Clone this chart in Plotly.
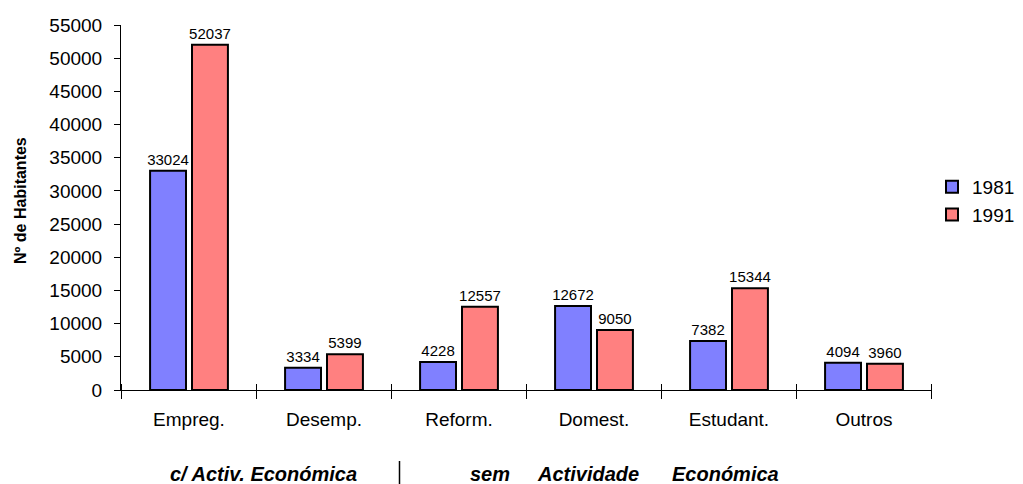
import plotly.graph_objects as go

categories = ["Empreg.", "Desemp.", "Reform.", "Domest.", "Estudant.", "Outros"]
values_1981 = [33024, 3334, 4228, 12672, 7382, 4094]
values_1991 = [52037, 5399, 12557, 9050, 15344, 3960]
series_names = ["1981", "1991"]
y_ticks = list(range(0, 55001, 5000))

FONT = "Liberation Sans, Arial, sans-serif"
OFF = 8  # page body margin
W, H = 1023 - OFF, 484 - OFF
L, R, T, B = 121 - OFF, 91, 25 - OFF, 94
pw, ph = W - L - R, H - T - B
PLOT_LEFT_PAGE, PLOT_BOTTOM_PAGE = 121, 390

def px_x(p):  # page pixel -> paper
    return (p - PLOT_LEFT_PAGE) / pw

def px_y(p):
    return (PLOT_BOTTOM_PAGE - p) / ph

fig = go.Figure()
for name, vals, col in [(series_names[0], values_1981, "#8080FF"),
                        (series_names[1], values_1991, "#FF8080")]:
    fig.add_trace(go.Bar(
        x=categories, y=vals, name=name,
        marker=dict(color=col, line=dict(color="black", width=2)),
        text=[str(v) for v in vals], textposition="outside",
        textfont=dict(family=FONT, size=15, color="black"),
        constraintext="none", cliponaxis=False,
    ))

shapes = []
for i in range(len(categories) + 1):
    shapes.append(dict(type="line", xref="x", yref="paper",
                       x0=i - 0.5, x1=i - 0.5, y0=0, y1=6 / ph,
                       line=dict(color="black", width=1)))
shapes.append(dict(type="line", xref="paper", yref="paper",
                   x0=px_x(399.5), x1=px_x(399.5), y0=px_y(461), y1=px_y(486),
                   line=dict(color="black", width=1.5)))

bot_font = dict(family=FONT, size=20, color="black")
annotations = [
    dict(text="<b>Nº de Habitantes</b>", xref="paper", yref="paper",
         x=px_x(20), y=px_y(201), xanchor="center", yanchor="middle",
         textangle=-90, showarrow=False,
         font=dict(family=FONT, size=16, color="black")),
]
for txt, cx in [("c/ Activ. Económica", 263.5), ("sem", 490),
                ("Actividade", 588), ("Económica", 725)]:
    annotations.append(dict(text="<b><i>" + txt + "</i></b>", xref="paper", yref="paper",
                            x=px_x(cx), y=px_y(474), xanchor="center", yanchor="middle",
                            showarrow=False, font=bot_font))

fig.update_layout(
    width=W, height=H,
    margin=dict(l=L, r=R, t=T, b=B, autoexpand=False),
    paper_bgcolor="white", plot_bgcolor="white",
    barmode="group", bargap=0.379, bargroupgap=0.143,
    font=dict(family=FONT, size=19, color="black"),
    xaxis=dict(type="category", showline=True, linecolor="black", linewidth=1,
               ticks="outside", ticklen=8, tickcolor="black", tickson="boundaries",
               showgrid=False, tickfont=dict(family=FONT, size=19, color="black"),
               ticklabelstandoff=12),
    yaxis=dict(range=[0, 55000], tickvals=y_ticks, tickformat="d", showline=True,
               linecolor="black", linewidth=1, ticks="outside", ticklen=6,
               tickcolor="black", showgrid=False, zeroline=False,
               tickfont=dict(family=FONT, size=19, color="black"),
               ticklabelstandoff=8),
    legend=dict(x=px_x(932), y=px_y(201), xanchor="left", yanchor="middle",
                font=dict(family=FONT, size=19, color="black"),
                bgcolor="rgba(0,0,0,0)"),
    shapes=shapes, annotations=annotations,
)

fig.write_html("out.html")
